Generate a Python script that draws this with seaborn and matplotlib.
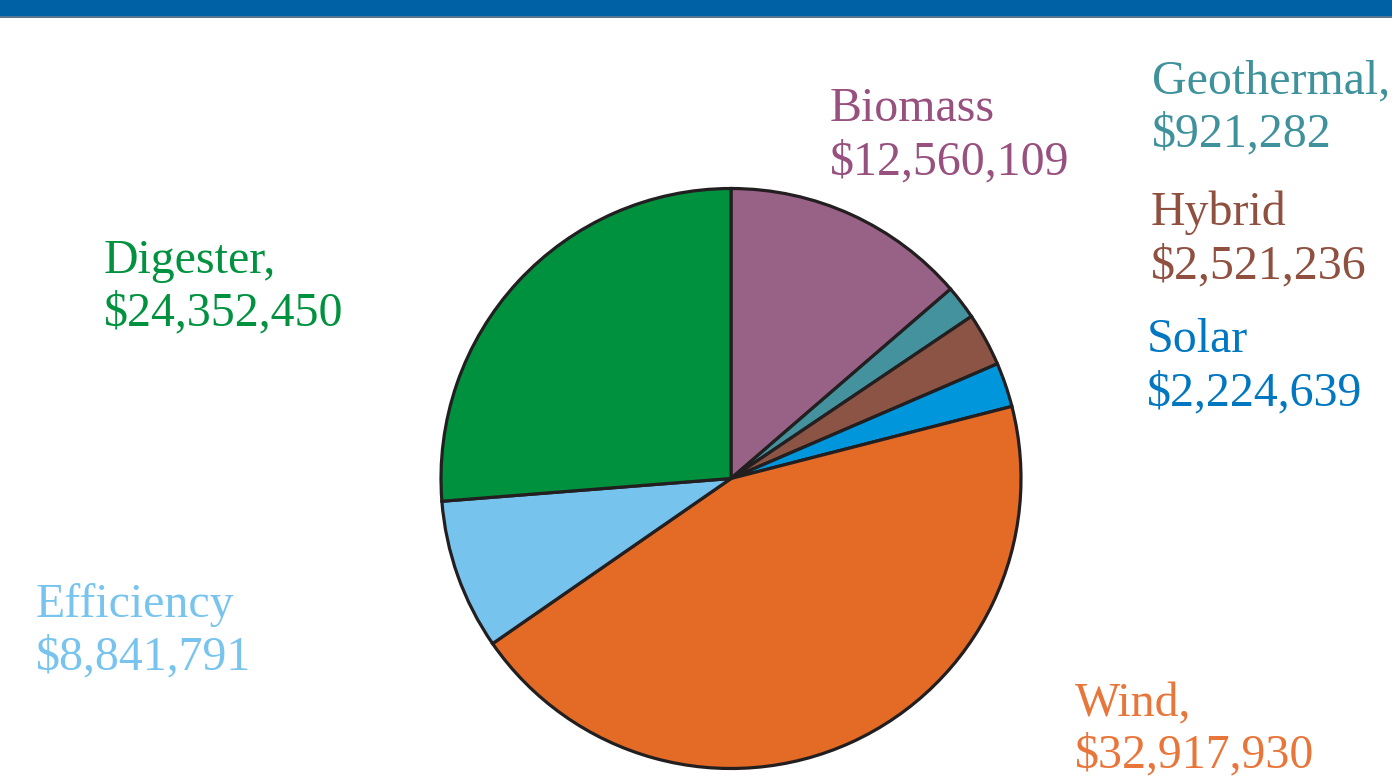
import matplotlib
matplotlib.use("Agg")
import matplotlib.pyplot as plt
import seaborn as sns

# ---- data ----
categories = ["Biomass", "Geothermal", "Hybrid", "Solar", "Wind", "Efficiency", "Digester"]
amounts = ["$12,560,109", "$921,282", "$2,521,236", "$2,224,639", "$32,917,930", "$8,841,791", "$24,352,450"]
# slice shares (percent of the pie) as drawn in the picture
shares = [13.67, 1.89, 2.97, 2.47, 44.36, 8.39, 26.25]
label_names = ["Biomass", "Geothermal,", "Hybrid", "Solar", "Wind,", "Efficiency", "Digester,"]

slice_colors = ["#986186", "#43929E", "#8C5444", "#0096DB", "#E36B25", "#76C3EE", "#00913F"]
text_colors = ["#98507F", "#3F929C", "#8F5040", "#0077C0", "#E8763A", "#78C4EE", "#00923F"]

sns.set_theme(style="white")
plt.rcParams["font.family"] = ["Liberation Serif", "DejaVu Serif"]

W, H = 1392, 777
fig = plt.figure(figsize=(W / 100, H / 100), dpi=100)
fig.patch.set_facecolor("white")

# top blue band
fig.patches.append(plt.Rectangle((0, 1 - 16 / H), 1, 16 / H, transform=fig.transFigure,
                                 facecolor="#0061A5", edgecolor="none", zorder=0))
fig.lines.append(plt.Line2D([0, 1], [1 - 16.8 / H, 1 - 16.8 / H], transform=fig.transFigure,
                            color="#3A5A78", linewidth=1.2))

# pie axes: center (731, 478.5), radius 290 px
cx, cy, r = 731, 478.5, 290
ax = fig.add_axes([(cx - r) / W, 1 - (cy + r) / H, 2 * r / W, 2 * r / H])
wedges, _ = ax.pie(shares, colors=slice_colors, startangle=90, counterclock=False,
                   wedgeprops=dict(edgecolor="#231F20", linewidth=2.3))
for w in wedges:
    w.set_clip_on(False)
ax.set_xlim(-1, 1)
ax.set_ylim(-1, 1)
ax.set_aspect("equal")
ax.axis("off")

# labels: (x left, baseline line1, baseline line2) in pixels
label_pos = {
    "Biomass": (830, 121, 174),
    "Geothermal": (1152, 93, 146.5),
    "Hybrid": (1151, 225, 278),
    "Solar": (1147, 352, 405),
    "Wind": (1075, 716, 767),
    "Efficiency": (36, 617, 669),
    "Digester": (104, 273, 325),
}
fs = 34.5
for cat, name, amt, col in zip(categories, label_names, amounts, text_colors):
    x, b1, b2 = label_pos[cat]
    fig.text(x / W, 1 - b1 / H, name, color=col, fontsize=fs, ha="left", va="baseline")
    fig.text(x / W, 1 - b2 / H, amt, color=col, fontsize=fs, ha="left", va="baseline")

fig.savefig("out.png", dpi=100, facecolor="white")
